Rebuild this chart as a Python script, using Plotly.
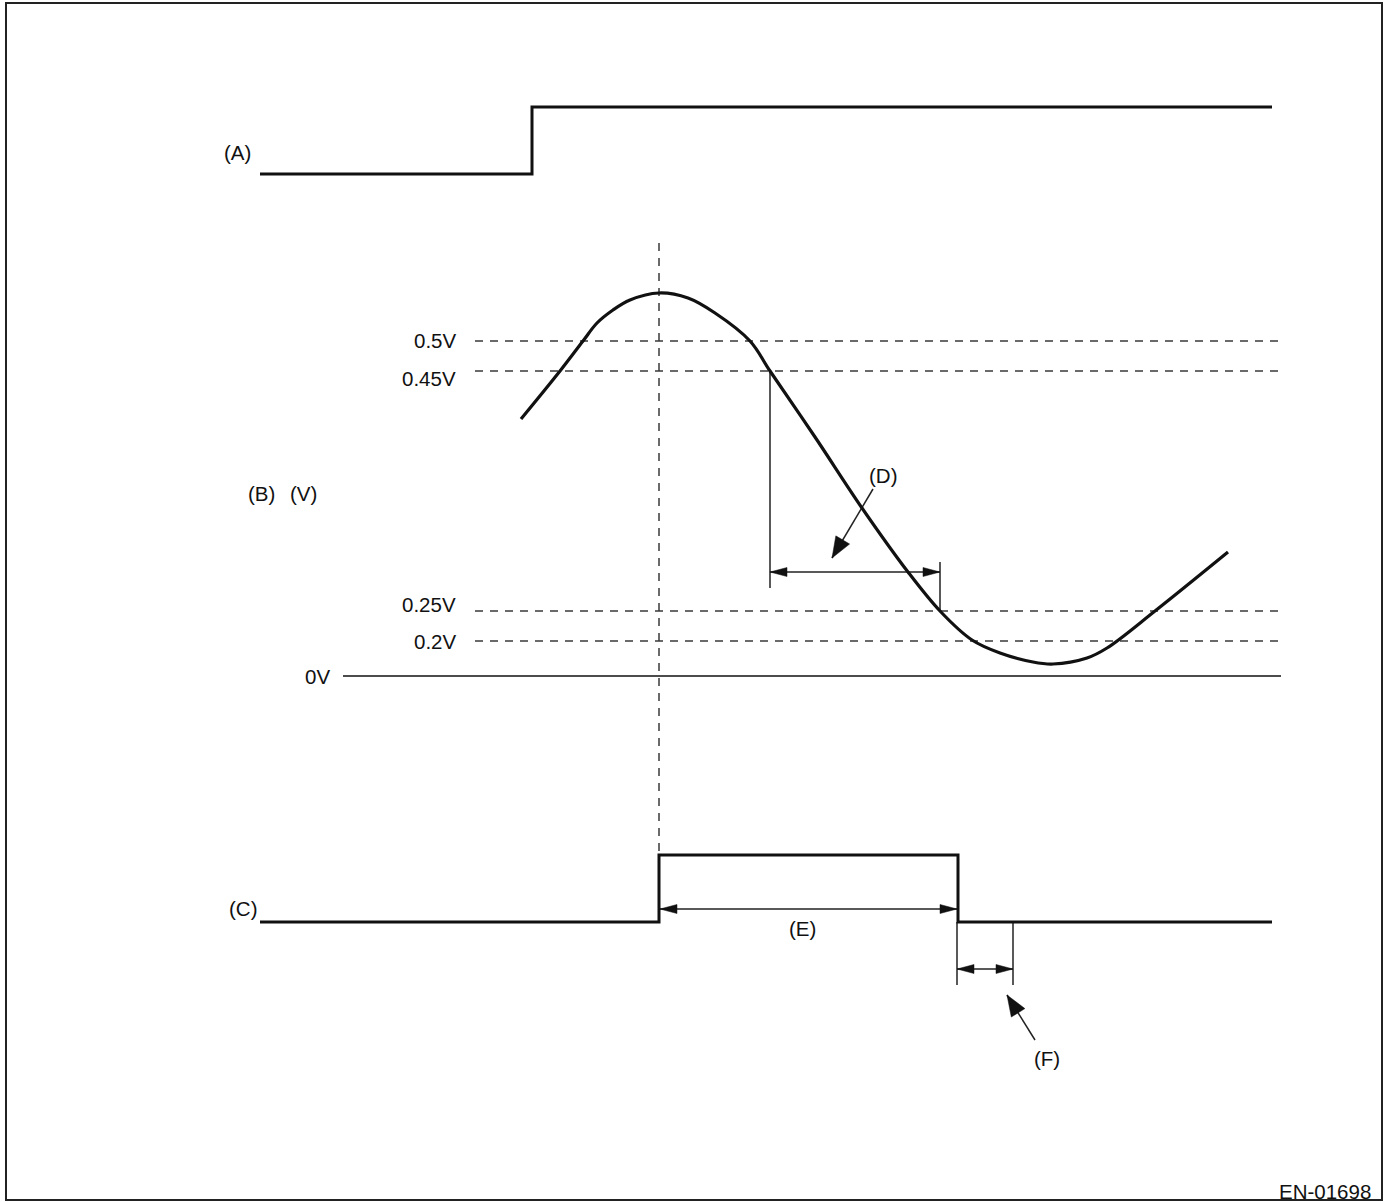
import plotly.graph_objects as go

# canvas: one axis unit == one pixel of the page, y grows downwards
W, H = 1388, 1202
FONT = 'Liberation Sans'
INK = '#111111'
DASH_INK = '#3a3a3a'

# --- (A) step signal ---
a_t = [260, 532, 532, 1272]
a_lvl = [174, 174, 107, 107]

# --- (C) pulse signal ---
c_t = [260, 659, 659, 958, 958, 1272]
c_lvl = [922, 922, 855, 855, 922, 922]

# --- (B) sensor voltage curve ---
b_t = [521, 560, 583, 597, 613, 630, 659, 688, 715, 750, 770, 815,
       862, 908, 940, 972, 1000, 1033, 1053, 1087, 1107, 1155, 1228]
b_lvl = [419, 371, 341, 323, 310, 300, 293, 298, 313, 341, 371, 437,
         508, 572, 611, 640, 653, 662, 664, 658, 648, 611, 552]

# voltage thresholds
thr_labels = ['0.5V', '0.45V', '0.25V', '0.2V']
thr_lvl = [341, 371, 611, 641]
thr_label_lvl = [340, 378, 604, 641]
thr_t = [475, 1281]
zero_label = '0V'
zero_lvl = 676
zero_t = [343, 1281]

# timing marker through the peak
marker_t = 659
marker_lvl = [243, 855]

# dimension arrows: (start t, end t, level)
dims = {'D': (770, 940, 572), 'E': (660, 957, 909), 'F': (957, 1013, 969)}
# extension lines: (t, from, to)
ext_lines = [(770, 371, 588), (940, 562, 612), (957, 922, 985), (1013, 922, 985)]
# leader arrows: (tail t, tail lvl, tip t, tip lvl)
leaders = {'D': (873, 489, 832, 558), 'F': (1035, 1040, 1007, 995)}

# text labels
sig_labels = ['(A)', '(B)', '(V)', '(C)']
sig_label_t = [237, 261, 303, 243]
sig_label_lvl = [152, 493, 493, 908]
call_labels = ['(D)', '(E)', '(F)']
call_t = [883, 802, 1047]
call_lvl = [475, 928, 1058]
fig_code = 'EN-01698'


def head(tx, ty, fx, fy, length, half):
    dx, dy = tx - fx, ty - fy
    n = (dx * dx + dy * dy) ** 0.5
    ux, uy = dx / n, dy / n
    bx, by = tx - length * ux, ty - length * uy
    px, py = -uy * half, ux * half
    return [tx, bx + px, bx - px, tx, None], [ty, by + py, by - py, ty, None]


fig = go.Figure()

# threshold dashed lines
dx_, dy_ = [], []
for lv in thr_lvl:
    dx_ += thr_t + [None]
    dy_ += [lv, lv, None]
fig.add_trace(go.Scatter(x=dx_, y=dy_, mode='lines',
                         line=dict(color=DASH_INK, width=1.5, dash='8px,7px')))
fig.add_trace(go.Scatter(x=[marker_t, marker_t], y=marker_lvl, mode='lines',
                         line=dict(color=DASH_INK, width=1.5, dash='8px,7px')))

# zero line
fig.add_trace(go.Scatter(x=zero_t, y=[zero_lvl, zero_lvl], mode='lines',
                         line=dict(color=INK, width=1.5)))

# thin lines: extension, dimension, leader
lx, ly = [], []
for t, y0, y1 in ext_lines:
    lx += [t, t, None]
    ly += [y0, y1, None]
for t0, t1, lv in dims.values():
    lx += [t0, t1, None]
    ly += [lv, lv, None]
for t0, l0, t1, l1 in leaders.values():
    lx += [t0, t1, None]
    ly += [l0, l1, None]
fig.add_trace(go.Scatter(x=lx, y=ly, mode='lines',
                         line=dict(color='#222222', width=1.5)))

# arrowheads
hx, hy = [], []
for t0, t1, lv in dims.values():
    x1, y1 = head(t0, lv, t1, lv, 17, 4.5)
    x2, y2 = head(t1, lv, t0, lv, 17, 4.5)
    hx += x1 + x2
    hy += y1 + y2
for t0, l0, t1, l1 in leaders.values():
    x1, y1 = head(t1, l1, t0, l0, 21, 8)
    hx += x1
    hy += y1
fig.add_trace(go.Scatter(x=hx, y=hy, mode='lines', fill='toself',
                         fillcolor=INK, line=dict(color=INK, width=0.5)))

# signals
fig.add_trace(go.Scatter(x=a_t, y=a_lvl, mode='lines',
                         line=dict(color=INK, width=3)))
fig.add_trace(go.Scatter(x=c_t, y=c_lvl, mode='lines',
                         line=dict(color=INK, width=3)))
fig.add_trace(go.Scatter(x=b_t, y=b_lvl, mode='lines',
                         line=dict(color=INK, width=3.2, shape='spline', smoothing=1.0)))

ann = []
for txt, lv in zip(thr_labels, thr_label_lvl):
    ann.append(dict(x=458, y=lv, text=txt, xanchor='right'))
ann.append(dict(x=332, y=zero_lvl, text=zero_label, xanchor='right'))
for txt, t, lv in zip(sig_labels + call_labels, sig_label_t + call_t,
                      sig_label_lvl + call_lvl):
    ann.append(dict(x=t, y=lv, text=txt, xanchor='center'))
ann.append(dict(x=1373, y=1191, text=fig_code, xanchor='right'))
for a in ann:
    a.update(xref='x', yref='y', showarrow=False, yanchor='middle',
             font=dict(family=FONT, size=20.5, color=INK))

fig.update_layout(
    width=W, height=H,
    margin=dict(l=0, r=0, t=0, b=0),
    paper_bgcolor='white', plot_bgcolor='white',
    showlegend=False,
    xaxis=dict(range=[0, W], visible=False, fixedrange=True),
    yaxis=dict(range=[H, 0], visible=False, fixedrange=True),
    annotations=ann,
    shapes=[dict(type='rect', xref='x', yref='y', x0=6, x1=1382, y0=3, y1=1200,
                 line=dict(color='#222222', width=2))],
)

# drop the default page margin so the figure sits at the window corner
fig.write_html('out.html', config={'displayModeBar': False},
               post_script="document.body.style.margin='0';")
